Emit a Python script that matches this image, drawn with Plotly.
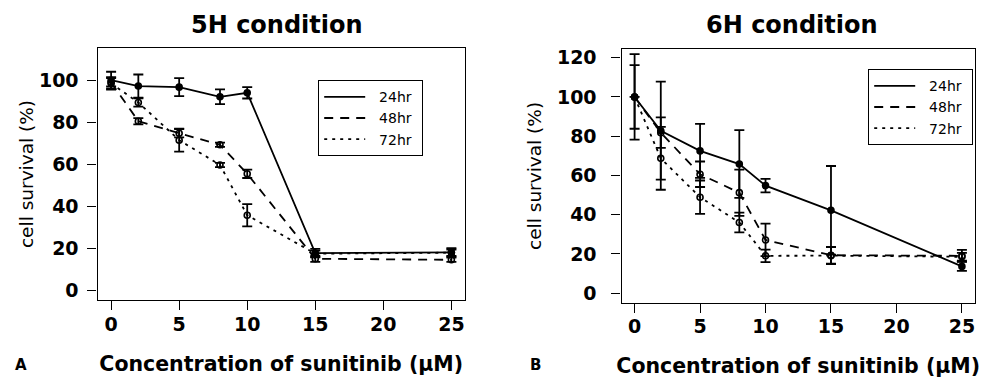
import plotly.graph_objects as go

# ---------------- data ----------------
conc = [0, 2, 5, 8, 10, 15, 25]
x_ticks = [0, 5, 10, 15, 20, 25]

# 5H condition
h5_24 = [100, 97.2, 96.7, 92.1, 94.0, 17.8, 18.1]
h5_24_err = [4, 5.5, 4.3, 3.5, 2.7, 2, 2]
h5_48 = [99, 80.5, 74.8, 69.3, 55.5, 15.1, 14.6]
h5_48_err = [2, 1.5, 2, 1, 2, 1.5, 1]
h5_72 = [98.5, 89.4, 71.5, 59.7, 35.8, 17.5, 18.0]
h5_72_err = [3, 2, 5.5, 1, 5.3, 1.5, 1.5]

# 6H condition
h6_24 = [100, 82.8, 72.5, 65.8, 54.8, 42.2, 13.6]
h6_24_err = [21.8, 25, 13.8, 17.3, 3.4, 22.6, 2.3]
h6_48 = [100, 81.8, 60.6, 51.2, 27.1, 19.3, 19.0]
h6_48_err = [16.2, 7.8, 6.5, 11.8, 8.3, 4.3, 3]
h6_72 = [100, 68.7, 48.9, 36.0, 19.0, 19.1, 18.5]
h6_72_err = [None, 16, 8.5, 5, 3.2, 4.3, 2]

series_names = ["24hr", "48hr", "72hr"]
panel_titles = ["5H condition", "6H condition"]
panel_letters = ["A", "B"]
x_title = "Concentration of sunitinib (μM)"
y_title = "cell survival (%)"
y5_ticks = [0, 20, 40, 60, 80, 100]
y6_ticks = [0, 20, 40, 60, 80, 100, 120]

# The page body has an 8px default margin; the figure is sized to fit the window.
OFF = 8
W, H = 988 - OFF, 384 - OFF
FONT = "DejaVu Sans"
NB = "\u00a0"

def px(x):  # window pixel x -> paper fraction
    return (x - OFF) / W

def py(y):  # window pixel y -> paper fraction
    return (384 - y) / H

dashes = ["solid", "9px,7px", "3px,5px"]
symbols = ["circle", "circle-open", "circle-open"]

fig = go.Figure()

def add_panel(vals, errs, xa, ya, legend):
    for name, v, e, d, s in zip(series_names, vals, errs, dashes, symbols):
        fig.add_trace(go.Scatter(
            x=conc, y=v, name=name, mode="lines+markers",
            xaxis=xa, yaxis=ya, showlegend=False,
            line=dict(color="black", width=1.8, dash=d),
            marker=dict(symbol=s, size=6, color="black", line=dict(color="black", width=1.6)),
            error_y=dict(type="data", array=e, visible=True, width=5,
                         thickness=1.8, color="black"),
        ))
        # legend entry: line sample only
        fig.add_trace(go.Scatter(
            x=[None], y=[None], name=NB * 2 + name + NB, mode="lines",
            xaxis=xa, yaxis=ya, legend=legend, showlegend=True,
            line=dict(color="black", width=1.8, dash=d),
        ))

add_panel([h5_24, h5_48, h5_72], [h5_24_err, h5_48_err, h5_72_err], "x", "y", "legend")
add_panel([h6_24, h6_48, h6_72], [h6_24_err, h6_48_err, h6_72_err], "x2", "y2", "legend2")

tickfont = dict(family=FONT, size=19, color="black", weight="bold")
common_axis = dict(showline=True, linecolor="black", linewidth=1.2, mirror=True,
                   ticks="outside", ticklen=9, tickwidth=1.2, tickcolor="black",
                   showgrid=False, zeroline=False, tickfont=tickfont, automargin=False)

xtitle = dict(text=x_title, font=dict(family=FONT, size=20.5, color="black", weight="bold"), standoff=22)

def ytitle(standoff):
    return dict(text=y_title, font=dict(family=FONT, size=18.5, color="black"), standoff=standoff)

legend_common = dict(xanchor="left", yanchor="top", bordercolor="black", borderwidth=1.2,
                     bgcolor="white", itemwidth=41,
                     font=dict(family=FONT, size=14, color="black"))

title_font = dict(family=FONT, size=24, color="black", weight="bold")

fig.update_layout(
    width=W, height=H, template="none",
    paper_bgcolor="white", plot_bgcolor="white",
    margin=dict(l=0, r=0, t=0, b=0, autoexpand=False),
    showlegend=True,
    xaxis=dict(domain=[px(97.5), px(465)], range=[-1, 26], tickvals=x_ticks,
               title=xtitle, ticklabelstandoff=-2, **common_axis),
    yaxis=dict(domain=[py(300), py(48)], range=[-4.5, 115.3], tickvals=y5_ticks,
               title=ytitle(0), ticklabelstandoff=5, anchor="x", **common_axis),
    xaxis2=dict(domain=[px(621.5), px(975)], range=[-1, 26], tickvals=x_ticks,
                title=xtitle, ticklabelstandoff=-2, anchor="y2", **common_axis),
    yaxis2=dict(domain=[py(302.5), py(49.3)], range=[-4.8, 124.3], tickvals=y6_ticks,
                title=ytitle(10), ticklabelstandoff=11, anchor="x2", **common_axis),
    legend=dict(x=px(318), y=py(80), **legend_common),
    legend2=dict(x=px(868), y=py(69), **legend_common),
    annotations=[
        dict(text=panel_titles[0], x=px(277), y=py(8.5), xref="paper", yref="paper",
             showarrow=False, xanchor="center", yanchor="top", font=title_font),
        dict(text=panel_titles[1], x=px(792), y=py(9), xref="paper", yref="paper",
             showarrow=False, xanchor="center", yanchor="top", font=title_font),
        dict(text=panel_letters[0], x=px(21), y=py(365), xref="paper", yref="paper",
             showarrow=False, xanchor="center", yanchor="middle",
             font=dict(family=FONT, size=15, color="black", weight="bold")),
        dict(text=panel_letters[1], x=px(535), y=py(365), xref="paper", yref="paper",
             showarrow=False, xanchor="center", yanchor="middle",
             font=dict(family=FONT, size=15, color="black", weight="bold")),
    ],
)

fig.write_html("out.html")
